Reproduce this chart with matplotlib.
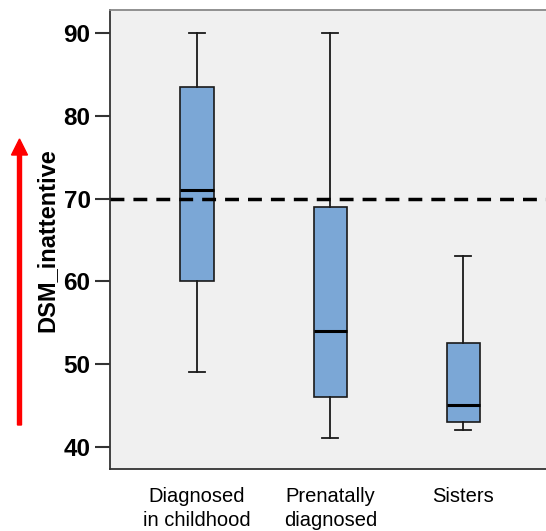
import numpy as np
import matplotlib.pyplot as plt
from matplotlib.patches import FancyArrow

plt.rcParams['font.family'] = ['Liberation Sans', 'DejaVu Sans']

# box statistics
groups = ['Diagnosed\nin childhood', 'Prenatally\ndiagnosed', 'Sisters']
whisker_low = [49, 41, 42]
q1 = [60, 46, 43]
median = [71, 54, 45]
q3 = [83.5, 69, 52.5]
whisker_high = [90, 90, 63]
cutoff = 70
yticks = [40, 50, 60, 70, 80, 90]

stats = []
for i in range(len(groups)):
    stats.append({'whislo': whisker_low[i], 'q1': q1[i], 'med': median[i],
                  'q3': q3[i], 'whishi': whisker_high[i], 'fliers': []})

fig = plt.figure(figsize=(5.46, 5.31), dpi=100)
ax = fig.add_axes([110/546, 1 - 469/531, 1 - 110/546, 459/531])
ax.set_facecolor('#f0f0f0')

ax.bxp(stats, positions=[1, 2, 3], widths=0.25, patch_artist=True,
       boxprops=dict(facecolor='#7ba7d6', edgecolor='#1a1a1a', linewidth=1.2),
       medianprops=dict(color='black', linewidth=2.2),
       whiskerprops=dict(color='#1a1a1a', linewidth=1.3),
       capprops=dict(color='#1a1a1a', linewidth=1.3),
       capwidths=0.12)

ax.axhline(cutoff, color='black', linestyle=(0, (4, 2.6)), linewidth=2.5, zorder=5)

ax.set_xlim(0.346, 3.62)
ax.set_ylim(37.3, 92.8)
ax.set_yticks(yticks)
ax.set_yticklabels([str(t) for t in yticks], fontsize=17.5, fontweight='bold')
ax.set_xticks([1, 2, 3])
ax.set_xticklabels(groups, fontsize=14.5, linespacing=1.3)
ax.tick_params(axis='y', length=11, width=1.5, color='#333333', pad=3)
ax.tick_params(axis='x', length=0, pad=13)
fig.text(47/546, 1 - 240/531, 'DSM_inattentive', rotation=90, ha='center', va='center',
         fontsize=17, fontweight='bold')

ax.spines['right'].set_visible(False)
ax.spines['top'].set_color('#888888')
ax.spines['left'].set_color('#333333')
ax.spines['bottom'].set_color('#333333')
for s in ['top', 'left', 'bottom']:
    ax.spines[s].set_linewidth(1.3)

# red arrow on the left side
fig.patches.append(FancyArrow(19.5/546, 1 - 425/531, 0, (425 - 139 - 16)/531,
                              width=4/546, head_width=16/546, head_length=16/531,
                              color='red', transform=fig.transFigure, figure=fig))

fig.savefig('out.png', dpi=100)
